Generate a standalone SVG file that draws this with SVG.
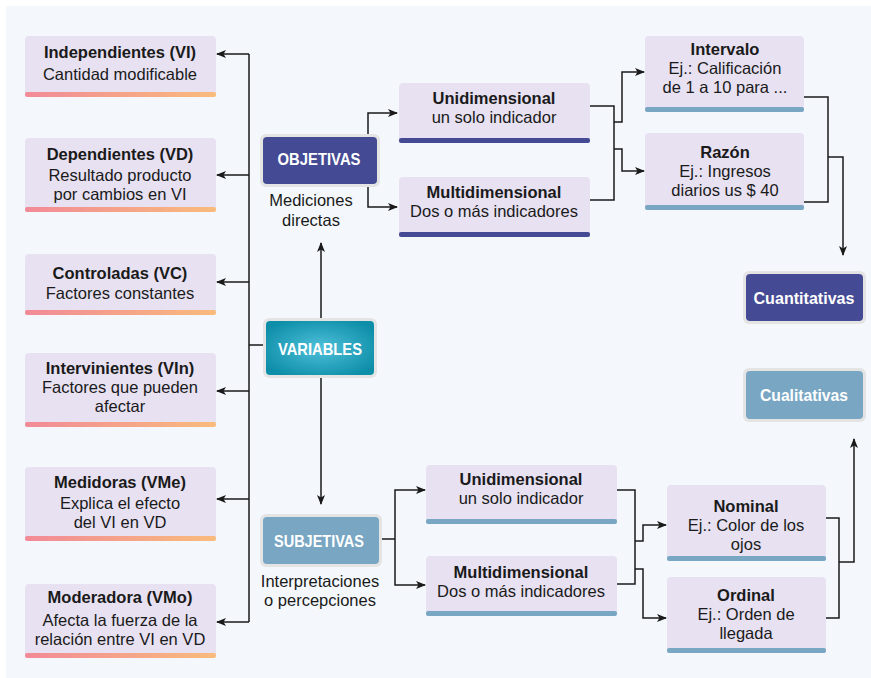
<svg xmlns="http://www.w3.org/2000/svg" width="871" height="678" viewBox="0 0 871 678">
<defs>
<style>
.t{font-family:"Liberation Sans",Arial,sans-serif;font-size:16.5px;fill:#1a1a1a;text-anchor:middle}
.b{font-weight:bold}
.w{font-family:"Liberation Sans",Arial,sans-serif;font-size:17px;font-weight:bold;fill:#ffffff;text-anchor:middle}
.box{fill:#e7e1f1}
.c{fill:none;stroke:#1a1a1a;stroke-width:1.5}
.a{marker-end:url(#ar)}
.frame{fill:#e4e4e4}
</style>
<linearGradient id="pk" x1="0" x2="1" y1="0" y2="0"><stop offset="0" stop-color="#f28a97"/><stop offset="1" stop-color="#f9bb7c"/></linearGradient>
<radialGradient id="tl" cx="0.5" cy="0.5" r="0.6"><stop offset="0" stop-color="#4fc0da"/><stop offset="1" stop-color="#0d8ea8"/></radialGradient>
<marker id="ar" markerWidth="10" markerHeight="10" refX="9" refY="5" orient="auto" markerUnits="userSpaceOnUse"><path d="M0,1 L10,5 L0,9 L2.5,5 z" fill="#1a1a1a"/></marker>
</defs>
<rect x="0" y="0" width="871" height="678" fill="#ffffff"/>
<rect x="6" y="6" width="865" height="672" fill="#f4f8fc"/>

<g id="connectors">
<path class="c" d="M249,54 V622"/>
<path class="c a" d="M249,54 H217"/>
<path class="c a" d="M249,175 H217"/>
<path class="c a" d="M249,282 H217"/>
<path class="c a" d="M249,391 H217"/>
<path class="c a" d="M249,499 H217"/>
<path class="c a" d="M249,622 H217"/>
<path class="c" d="M249,345 H263"/>
<path class="c a" d="M321,318 V243"/>
<path class="c a" d="M321,378 V504"/>
<path class="c a" d="M368,134 V113 H397"/>
<path class="c a" d="M368,187 V207 H397"/>
<path class="c" d="M590,106 H614 V200 H590"/>
<path class="c a" d="M614,122 H622 V72 H644"/>
<path class="c a" d="M614,149 H622 V171 H644"/>
<path class="c" d="M804,97 H828 V202 H804"/>
<path class="c a" d="M828,157 H843 V255"/>
<path class="c" d="M382,539 H395"/>
<path class="c a" d="M395,539 V490 H425"/>
<path class="c a" d="M395,539 V585 H425"/>
<path class="c" d="M617,490 H635 V584 H617"/>
<path class="c a" d="M635,541 H643 V525 H666"/>
<path class="c a" d="M635,569 H643 V618 H666"/>
<path class="c" d="M826,518 H839 V618 H826"/>
<path class="c a" d="M839,562 H854 V439"/>
</g>

<g id="independientes">
<rect class="box" x="25" y="36" width="191" height="61" rx="4"/>
<rect x="25" y="92" width="191" height="5" rx="2" fill="url(#pk)"/>
<text class="t b" x="120" y="58">Independientes (VI)</text>
<text class="t" x="120" y="80">Cantidad modificable</text>
</g>
<g id="dependientes">
<rect class="box" x="25" y="138" width="191" height="74" rx="4"/>
<rect x="25" y="207" width="191" height="5" rx="2" fill="url(#pk)"/>
<text class="t b" x="120" y="160">Dependientes (VD)</text>
<text class="t" x="120" y="181">Resultado producto</text>
<text class="t" x="120" y="200">por cambios en VI</text>
</g>
<g id="controladas">
<rect class="box" x="25" y="254" width="191" height="61" rx="4"/>
<rect x="25" y="310" width="191" height="5" rx="2" fill="url(#pk)"/>
<text class="t b" x="120" y="279">Controladas (VC)</text>
<text class="t" x="120" y="299">Factores constantes</text>
</g>
<g id="intervinientes">
<rect class="box" x="25" y="353" width="191" height="74" rx="4"/>
<rect x="25" y="422" width="191" height="5" rx="2" fill="url(#pk)"/>
<text class="t b" x="120" y="374">Intervinientes (VIn)</text>
<text class="t" x="120" y="393">Factores que pueden</text>
<text class="t" x="120" y="412">afectar</text>
</g>
<g id="medidoras">
<rect class="box" x="25" y="467" width="191" height="74" rx="4"/>
<rect x="25" y="536" width="191" height="5" rx="2" fill="url(#pk)"/>
<text class="t b" x="120" y="488">Medidoras (VMe)</text>
<text class="t" x="120" y="509">Explica el efecto</text>
<text class="t" x="120" y="528">del VI en VD</text>
</g>
<g id="moderadora">
<rect class="box" x="25" y="584" width="191" height="74" rx="4"/>
<rect x="25" y="653" width="191" height="5" rx="2" fill="url(#pk)"/>
<text class="t b" x="120" y="603">Moderadora (VMo)</text>
<text class="t" x="120" y="626">Afecta la fuerza de la</text>
<text class="t" x="120" y="645">relación entre VI en VD</text>
</g>

<g id="variables">
<rect class="frame" x="263" y="318" width="114" height="60" rx="6"/>
<rect x="266" y="321" width="108" height="54" rx="4" fill="url(#tl)"/>
<text class="w" x="320" y="355" textLength="84" lengthAdjust="spacingAndGlyphs">VARIABLES</text>
</g>
<g id="objetivas">
<rect class="frame" x="260" y="134" width="120" height="53" rx="6"/>
<rect x="263" y="137" width="114" height="47" rx="4" fill="#454a94"/>
<text class="w" x="319" y="165" textLength="83" lengthAdjust="spacingAndGlyphs">OBJETIVAS</text>
<text class="t" x="311" y="206">Mediciones</text>
<text class="t" x="311" y="226">directas</text>
</g>
<g id="subjetivas">
<rect class="frame" x="260" y="514" width="122" height="53" rx="6"/>
<rect x="263" y="517" width="116" height="47" rx="4" fill="#78a6c3"/>
<text class="w" x="319" y="547" textLength="90" lengthAdjust="spacingAndGlyphs">SUBJETIVAS</text>
<text class="t" x="320" y="587">Interpretaciones</text>
<text class="t" x="320" y="606">o percepciones</text>
</g>

<g id="obj-uni">
<rect class="box" x="399" y="83" width="191" height="60" rx="4"/>
<rect x="399" y="138" width="191" height="5" rx="2" fill="#454a94"/>
<text class="t b" x="494" y="104">Unidimensional</text>
<text class="t" x="494" y="123">un solo indicador</text>
</g>
<g id="obj-multi">
<rect class="box" x="399" y="177" width="191" height="60" rx="4"/>
<rect x="399" y="232" width="191" height="5" rx="2" fill="#454a94"/>
<text class="t b" x="494" y="198">Multidimensional</text>
<text class="t" x="494" y="217">Dos o más indicadores</text>
</g>
<g id="intervalo">
<rect class="box" x="645" y="36" width="159" height="76" rx="4"/>
<rect x="645" y="107" width="159" height="5" rx="2" fill="#78a6c3"/>
<text class="t b" x="725" y="55">Intervalo</text>
<text class="t" x="725" y="74">Ej.: Calificación</text>
<text class="t" x="725" y="93">de 1 a 10 para ...</text>
</g>
<g id="razon">
<rect class="box" x="645" y="133" width="159" height="77" rx="4"/>
<rect x="645" y="205" width="159" height="5" rx="2" fill="#78a6c3"/>
<text class="t b" x="725" y="158">Razón</text>
<text class="t" x="725" y="177">Ej.: Ingresos</text>
<text class="t" x="725" y="196">diarios us $ 40</text>
</g>
<g id="cuantitativas">
<rect class="frame" x="743" y="271" width="123" height="53" rx="6"/>
<rect x="746" y="274" width="117" height="47" rx="4" fill="#454a94"/>
<text class="w" x="804" y="304" textLength="101" lengthAdjust="spacingAndGlyphs">Cuantitativas</text>
</g>
<g id="cualitativas">
<rect class="frame" x="743" y="368" width="123" height="54" rx="6"/>
<rect x="746" y="371" width="117" height="48" rx="4" fill="#78a6c3"/>
<text class="w" x="804" y="401" textLength="88" lengthAdjust="spacingAndGlyphs">Cualitativas</text>
</g>

<g id="subj-uni">
<rect class="box" x="426" y="465" width="191" height="59" rx="4"/>
<rect x="426" y="519" width="191" height="5" rx="2" fill="#78a6c3"/>
<text class="t b" x="521" y="485">Unidimensional</text>
<text class="t" x="521" y="504">un solo indicador</text>
</g>
<g id="subj-multi">
<rect class="box" x="426" y="556" width="191" height="60" rx="4"/>
<rect x="426" y="611" width="191" height="5" rx="2" fill="#78a6c3"/>
<text class="t b" x="521" y="578">Multidimensional</text>
<text class="t" x="521" y="597">Dos o más indicadores</text>
</g>
<g id="nominal">
<rect class="box" x="667" y="485" width="159" height="76" rx="4"/>
<rect x="667" y="556" width="159" height="5" rx="2" fill="#78a6c3"/>
<text class="t b" x="746" y="512">Nominal</text>
<text class="t" x="746" y="531">Ej.: Color de los</text>
<text class="t" x="746" y="550">ojos</text>
</g>
<g id="ordinal">
<rect class="box" x="667" y="577" width="159" height="76" rx="4"/>
<rect x="667" y="648" width="159" height="5" rx="2" fill="#78a6c3"/>
<text class="t b" x="746" y="601">Ordinal</text>
<text class="t" x="746" y="620">Ej.: Orden de</text>
<text class="t" x="746" y="639">llegada</text>
</g>
</svg>
